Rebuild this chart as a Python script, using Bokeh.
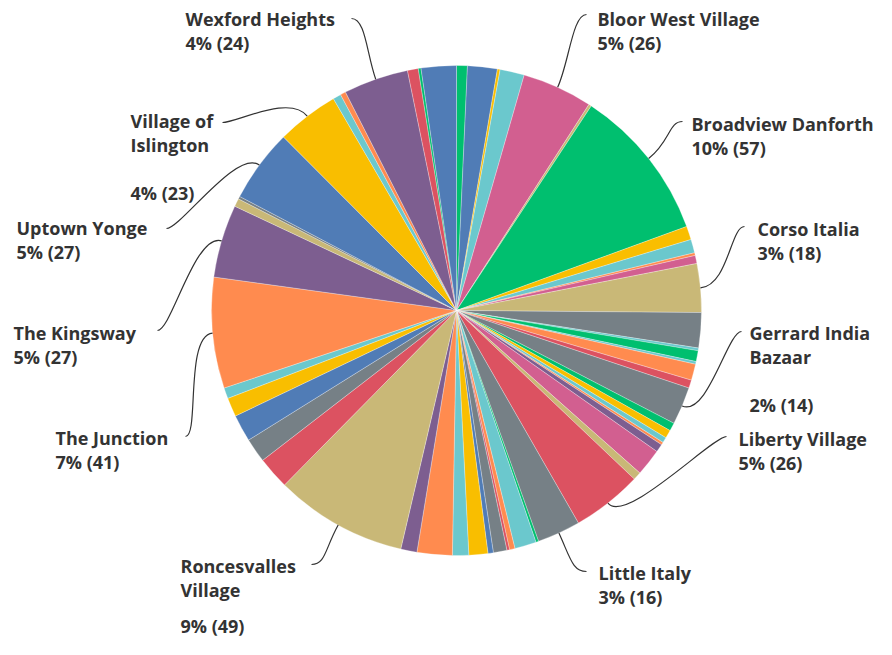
import numpy as np
from bokeh.plotting import figure
from bokeh.models import Range1d, ColumnDataSource
from bokeh.core.properties import value
from bokeh.embed import file_html
from bokeh.resources import INLINE

# ---------------- data ----------------
PALETTE = {
    "green": "#00BF6F", "blue": "#507CB6", "yellow": "#F9BE00", "teal": "#6BC8CD",
    "pink": "#D25F90", "tan": "#C9B877", "gray": "#768086", "red": "#DC5261",
    "orange": "#FF8B4F", "purple": "#7D5E90",
}

slice_colors = [
    "green", "blue", "yellow", "teal", "pink", "tan", "green", "yellow", "teal", "orange",
    "pink", "tan", "gray", "teal", "green", "teal", "orange", "red", "gray", "green",
    "yellow", "teal", "orange", "purple", "pink", "tan", "red", "gray", "green", "teal",
    "orange", "red", "gray", "blue", "yellow", "teal", "orange", "purple", "tan", "red",
    "gray", "blue", "yellow", "teal", "orange", "purple", "tan", "gray", "blue", "yellow",
    "teal", "orange", "purple", "red", "green", "blue",
]

slice_counts = [
    4, 11, 1, 9, 26, 1, 57, 5, 5, 1,
    3, 18, 13, 1, 4, 1, 6, 3, 14, 3,
    3, 2, 1, 3, 10, 3, 26, 16, 1, 8,
    2, 1, 5, 2, 7, 6, 13, 6, 49, 12,
    9, 10, 7, 4, 41, 27, 3, 1, 27, 23,
    3, 2, 24, 4, 1, 13,
]

slice_names = [None] * len(slice_counts)
slice_names[4] = "Bloor West Village"
slice_names[6] = "Broadview Danforth"
slice_names[11] = "Corso Italia"
slice_names[18] = "Gerrard India Bazaar"
slice_names[26] = "Liberty Village"
slice_names[27] = "Little Italy"
slice_names[38] = "Roncesvalles Village"
slice_names[44] = "The Junction"
slice_names[45] = "The Kingsway"
slice_names[48] = "Uptown Yonge"
slice_names[49] = "Village of Islington"
slice_names[52] = "Wexford Heights"

label_wrap = {
    "Village of Islington": ["Village of", "Islington", ""],
    "Gerrard India Bazaar": ["Gerrard India", "Bazaar", ""],
    "Roncesvalles Village": ["Roncesvalles", "Village", ""],
}

# label layout (pixels): left x, first-line baseline
label_pos = {
    "Wexford Heights": (185, 26),
    "Bloor West Village": (597, 26),
    "Broadview Danforth": (691, 131),
    "Corso Italia": (757, 236),
    "Gerrard India Bazaar": (749, 340),
    "Liberty Village": (738, 446),
    "Little Italy": (598, 580),
    "Roncesvalles Village": (180, 573),
    "The Junction": (55, 445),
    "The Kingsway": (13, 340),
    "Uptown Yonge": (16, 235),
    "Village of Islington": (130, 128),
}
# last-line baseline where the label must be squeezed to stay inside the frame
last_line_baseline = {"Roncesvalles Village": 633}
TEXT_DY = -8   # renderer places the alphabetic baseline this much lower

# where each leader line meets its label (pixels)
label_anchor = {
    "Wexford Heights": (351, 18),
    "Bloor West Village": (586, 14),
    "Broadview Danforth": (682, 121),
    "Corso Italia": (744, 226),
    "Gerrard India Bazaar": (741, 331),
    "Liberty Village": (726, 436),
    "Little Italy": (586, 571),
    "Roncesvalles Village": (311, 564),
    "The Junction": (185, 436),
    "The Kingsway": (157, 330),
    "Uptown Yonge": (166, 228),
    "Village of Islington": (222, 122),
}

# ---------------- geometry ----------------
W, H = 876, 639
TOP = 655
CX, CY, R = 456, 310, 245          # pie centre / radius in pixels


def Y(y):
    return TOP - y


counts = np.array(slice_counts, dtype=float)
total = counts.sum()
cum = np.concatenate([[0], np.cumsum(counts)])
theta0 = 360.0 * cum[:-1] / total      # clockwise from 12 o'clock
theta1 = 360.0 * cum[1:] / total

src = ColumnDataSource(dict(
    start=np.radians(90 - theta0),
    end=np.radians(90 - theta1),
    color=[PALETTE[c] for c in slice_colors],
))

p = figure(width=W, height=H, output_backend="svg", toolbar_location=None,
           x_range=Range1d(0, W), y_range=Range1d(TOP - H, TOP),
           min_border=0)
p.axis.visible = False
p.grid.visible = False
p.outline_line_color = None
p.background_fill_color = "white"

p.wedge(x=CX, y=Y(CY), radius=R, start_angle="start", end_angle="end",
        direction="clock", fill_color="color", line_color="white",
        line_width=0.4, line_alpha=0.7, source=src)

# ---------------- labels & leader lines ----------------
tx, ty, tt = [], [], []
bz = dict(x0=[], y0=[], x1=[], y1=[], cx0=[], cy0=[], cx1=[], cy1=[])
for i, name in enumerate(slice_names):
    if name is None:
        continue
    n = slice_counts[i]
    pct = int(round(100.0 * n / total))
    lines = label_wrap.get(name, [name]) + [f"{pct}% ({n})"]
    lx, ly = label_pos[name]
    for k, line in enumerate(lines):
        if not line:
            continue
        by = ly + 24 * k
        if k == len(lines) - 1 and name in last_line_baseline:
            by = last_line_baseline[name]
        tx.append(lx)
        ty.append(Y(by + TEXT_DY))
        tt.append(line)
    tm = np.radians((theta0[i] + theta1[i]) / 2)
    ux, uy = np.sin(tm), -np.cos(tm)
    px, py = CX + R * ux, CY + R * uy
    ax, ay = label_anchor[name]
    hook = 14 if px > ax else -14
    bz["x0"].append(px); bz["y0"].append(Y(py))
    bz["cx0"].append(px + 28 * ux); bz["cy0"].append(Y(py + 28 * uy))
    bz["cx1"].append(ax + hook); bz["cy1"].append(Y(ay))
    bz["x1"].append(ax); bz["y1"].append(Y(ay))

p.bezier(source=ColumnDataSource(bz), x0="x0", y0="y0", x1="x1", y1="y1",
         cx0="cx0", cy0="cy0", cx1="cx1", cy1="cy1",
         line_color="#333333", line_width=1.2)

p.text(x=tx, y=ty, text=tt, text_font=value("Open Sans"), text_font_size="18px",
       text_font_style="bold", text_color="#333333", text_align="left",
       text_baseline="alphabetic")

open("out.html", "w").write(file_html(p, INLINE))
